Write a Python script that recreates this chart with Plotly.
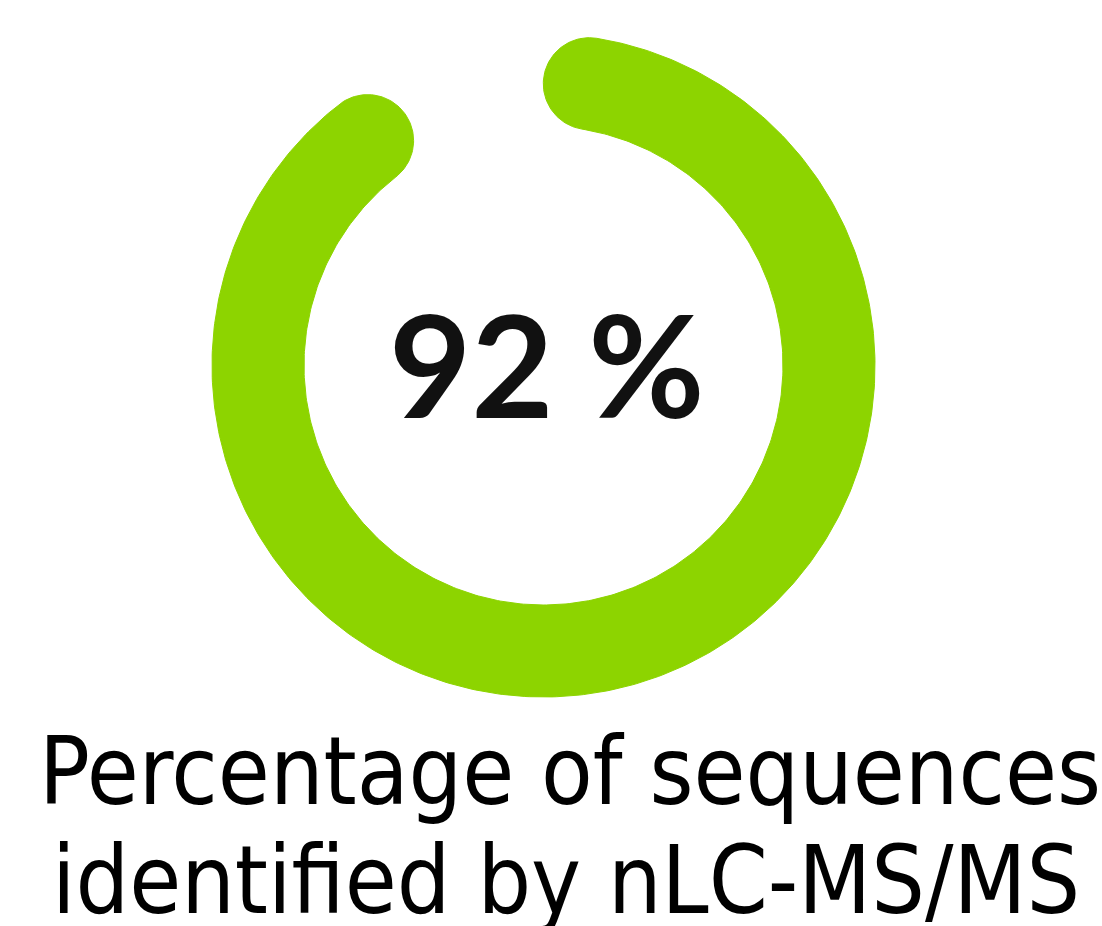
import numpy as np
import plotly.graph_objects as go

# ---- data ----
PERCENT_VALUES = [92]               # share identified
CENTER_LABELS = ["92 %"]
CAPTION_LINES = ["Percentage of sequences", "identified by nLC-MS/MS"]

# ---- layout config ----
W, H = 1102, 926
CX, CY = 543.5, 365.5
R_OUT, R_IN = 331.5, 239.5
GREEN = "#8DD400"

value = PERCENT_VALUES[0]
r_mid = (R_OUT + R_IN) / 2
half_t = (R_OUT - R_IN) / 2
cap_ang = half_t / r_mid                      # radians consumed by a round cap
total = np.deg2rad(360 * value / 100)
a0, a1 = cap_ang, total - cap_ang             # angles (clockwise from top) of cap centres


def pt(r, a):
    return CX + r * np.sin(a), CY - r * np.cos(a)


xs, ys = [], []
for a in np.linspace(a0, a1, 400):
    x, y = pt(R_OUT, a); xs.append(x); ys.append(y)
ccx, ccy = pt(r_mid, a1)
rad = np.array([np.sin(a1), -np.cos(a1)]); tan = np.array([np.cos(a1), np.sin(a1)])
for t in np.linspace(0, np.pi, 60):
    v = rad * np.cos(t) + tan * np.sin(t)
    xs.append(ccx + half_t * v[0]); ys.append(ccy + half_t * v[1])
for a in np.linspace(a1, a0, 400):
    x, y = pt(R_IN, a); xs.append(x); ys.append(y)
ccx, ccy = pt(r_mid, a0)
rad = np.array([np.sin(a0), -np.cos(a0)]); tan = np.array([np.cos(a0), np.sin(a0)])
for t in np.linspace(0, np.pi, 60):
    v = -rad * np.cos(t) - tan * np.sin(t)
    xs.append(ccx + half_t * v[0]); ys.append(ccy + half_t * v[1])
xs.append(xs[0]); ys.append(ys[0])

fig = go.Figure()
fig.add_trace(go.Scatter(x=xs, y=ys, mode="lines", fill="toself",
                         fillcolor=GREEN, line=dict(color=GREEN, width=1),
                         hoverinfo="skip", showlegend=False))

fig.add_annotation(x=CX + 3, y=CY - 3, xref="x", yref="y", text=CENTER_LABELS[0],
                   showarrow=False, xanchor="center", yanchor="middle",
                   font=dict(family="Lato", size=142, color="#111111", weight="bold"))

CAP_FONT = dict(family="DejaVu Sans Condensed", size=94, color="#000000")
fig.add_annotation(x=570, y=771, xref="x", yref="y", text=CAPTION_LINES[0],
                   showarrow=False, xanchor="center", yanchor="middle", font=CAP_FONT)
fig.add_annotation(x=566, y=880, xref="x", yref="y", text=CAPTION_LINES[1],
                   showarrow=False, xanchor="center", yanchor="middle", font=CAP_FONT)

fig.update_xaxes(range=[0, W], visible=False, fixedrange=True)
fig.update_yaxes(range=[H, 0], visible=False, fixedrange=True)
fig.update_layout(width=W, height=H, margin=dict(l=0, r=0, t=0, b=0),
                  paper_bgcolor="white", plot_bgcolor="white")

fig.write_html("out.html")
